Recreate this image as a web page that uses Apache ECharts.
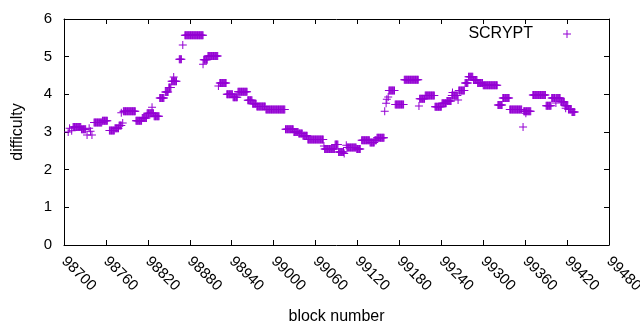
<!DOCTYPE html>
<html>
<head>
<meta charset="utf-8">
<script src="https://cdn.jsdelivr.net/npm/echarts@6/dist/echarts.min.js"></script>
<style>
  html, body { margin: 0; padding: 0; background: #fff; }
  #main { width: 640px; height: 330px; }
</style>
</head>
<body>
<div id="main"></div>
<script>
// difficulty runs: block range [start, end] with one value
var runStart = [98706, 98708, 98711, 98713, 98725, 98733, 98736, 98738, 98740, 98743, 98755,
  98765, 98773, 98779, 98782, 98784, 98785, 98803, 98812, 98819, 98826, 98829,
  98837, 98845, 98850, 98854, 98857, 98865, 98870, 98873, 98899, 98900, 98906,
  98921, 98923, 98933, 98942, 98949, 98963, 98970, 98976, 98989, 99017, 99029,
  99036, 99042, 99049, 99072, 99073, 99088, 99093, 99101, 99104, 99105, 99119,
  99126, 99138, 99145, 99148, 99159, 99161, 99162, 99164, 99165, 99174, 99187,
  99208, 99209, 99217, 99231, 99241, 99248, 99255, 99256, 99264, 99265, 99274,
  99279, 99286, 99292, 99300, 99321, 99328, 99338, 99357, 99358, 99361, 99371,
  99390, 99398, 99404, 99405, 99411, 99417, 99418, 99422, 99427];
var runEnd = [98706, 98708, 98711, 98724, 98731, 98733, 98736, 98738, 98740, 98754, 98762,
  98772, 98778, 98782, 98782, 98784, 98802, 98811, 98818, 98828, 98826, 98836,
  98843, 98849, 98853, 98861, 98857, 98868, 98870, 98899, 98899, 98905, 98920,
  98921, 98932, 98941, 98948, 98962, 98969, 98975, 98988, 99016, 99028, 99035,
  99041, 99048, 99071, 99072, 99087, 99092, 99100, 99101, 99104, 99118, 99124,
  99137, 99144, 99147, 99158, 99159, 99161, 99162, 99164, 99173, 99186, 99207,
  99208, 99216, 99230, 99240, 99247, 99254, 99263, 99256, 99264, 99273, 99278,
  99285, 99291, 99299, 99320, 99327, 99337, 99355, 99357, 99368, 99361, 99389,
  99397, 99403, 99404, 99410, 99416, 99421, 99418, 99426, 99431];
var runValue = [3.0, 3.1, 3.03, 3.13, 3.07, 2.92, 3.1, 3.02, 2.92, 3.25, 3.3,
  3.04, 3.1, 3.17, 3.51, 3.24, 3.55, 3.3, 3.37, 3.5, 3.66, 3.42,
  3.9, 4.06, 4.18, 4.35, 4.46, 4.93, 5.31, 5.57, 4.8, 4.92, 5.02,
  4.22, 4.3, 4.0, 3.92, 4.07, 3.84, 3.75, 3.68, 3.6, 3.07, 3.0,
  2.96, 2.9, 2.8, 2.63, 2.55, 2.67, 2.47, 2.43, 2.65, 2.59, 2.55,
  2.78, 2.72, 2.78, 2.85, 3.55, 3.76, 3.87, 3.93, 4.1, 3.73, 4.39,
  3.69, 3.88, 3.97, 3.67, 3.76, 3.82, 3.97, 4.05, 3.85, 4.1, 4.3,
  4.47, 4.38, 4.3, 4.24, 3.72, 3.9, 3.6, 3.13, 3.55, 3.5, 3.98,
  3.7, 3.9, 3.77, 3.9, 3.8, 3.7, 3.63, 3.6, 3.53];
var seriesName = 'SCRYPT';
var xTicks = { min: 98700, max: 99480, step: 60 };
var yTicks = { min: 0, max: 6, step: 1 };

var points = [];
for (var i = 0; i < runStart.length; i++) {
  for (var b = runStart[i]; b <= runEnd[i]; b++) {
    points.push([b, runValue[i]]);
  }
}

var purple = '#9400d3';
var font = 'Liberation Sans';
var cross = 'path://M0,3.5H8V4.5H0ZM3.5,0H4.5V8H3.5Z';
var legendCross = 'path://M0,4H0.05V4.05H0ZM25,3.5H33V4.5H25ZM28.5,0H29.5V8H28.5Z';

var myChart = echarts.init(document.getElementById('main'), null, { renderer: 'canvas' });
var axisBase = {
  type: 'value',
  axisLine: { show: true, onZero: false, lineStyle: { color: '#000', width: 1 } },
  axisTick: { show: true, inside: true, length: 5, lineStyle: { color: '#000' } },
  splitLine: { show: false }
};
var option = {
  animation: false,
  backgroundColor: '#fff',
  textStyle: { fontFamily: font },
  grid: { left: 64, right: 31, top: 19, bottom: 85, containLabel: false, outerBoundsMode: 'none' },
  legend: {
    data: [seriesName],
    right: 69, top: 26, padding: 0,
    align: 'right',
    icon: legendCross,
    itemWidth: 33, itemHeight: 8,
    textStyle: { fontFamily: font, fontSize: 16, color: '#000' }
  },
  xAxis: [
    Object.assign({}, axisBase, {
      position: 'bottom',
      min: xTicks.min, max: xTicks.max, interval: xTicks.step,
      name: 'block number', nameLocation: 'middle', nameGap: 64,
      nameTextStyle: { fontFamily: font, fontSize: 16, color: '#000' },
      axisLabel: {
        rotate: -45, margin: 14, fontFamily: font, fontSize: 15, color: '#000',
        formatter: function (v) { return String(v); }
      }
    }),
    Object.assign({}, axisBase, {
      position: 'top',
      min: xTicks.min, max: xTicks.max, interval: xTicks.step,
      axisLabel: { show: false }
    })
  ],
  yAxis: [
    Object.assign({}, axisBase, {
      position: 'left',
      min: yTicks.min, max: yTicks.max, interval: yTicks.step,
      name: 'difficulty', nameLocation: 'middle', nameGap: 38,
      nameTextStyle: { fontFamily: font, fontSize: 16, color: '#000' },
      axisLabel: { margin: 12, fontFamily: font, fontSize: 15, color: '#000' }
    }),
    Object.assign({}, axisBase, {
      position: 'right',
      min: yTicks.min, max: yTicks.max, interval: yTicks.step,
      axisLabel: { show: false }
    })
  ],
  series: [{
    name: seriesName,
    type: 'scatter',
    xAxisIndex: 0,
    yAxisIndex: 0,
    symbol: cross,
    symbolSize: 8,
    itemStyle: { color: purple, opacity: 1 },
    emphasis: { disabled: true },
    data: points
  }]
};
myChart.setOption(option);
</script>
</body>
</html>
